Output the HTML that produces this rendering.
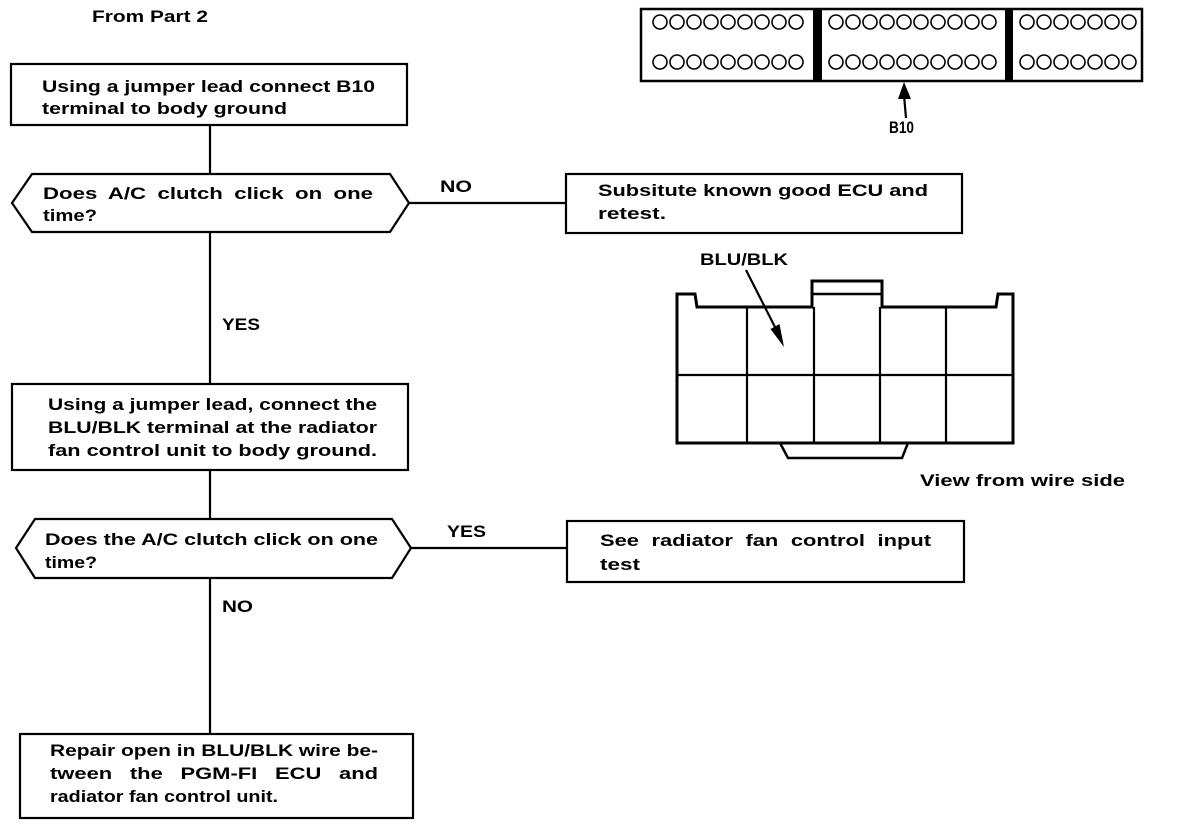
<!DOCTYPE html>
<html><head><meta charset="utf-8"><style>
html,body{margin:0;padding:0;background:#fff;}
svg{display:block;}
text{font-family:"Liberation Sans",Arial,sans-serif;font-weight:bold;font-size:17px;fill:#000;}
</style></head><body>
<svg width="1184" height="826" viewBox="0 0 1184 826" xmlns="http://www.w3.org/2000/svg">
<g fill="none" stroke="#000" stroke-width="2.2">
<line x1="210" y1="124" x2="210" y2="173"/>
<line x1="210" y1="231" x2="210" y2="384"/>
<line x1="210" y1="470" x2="210" y2="518"/>
<line x1="210" y1="578" x2="210" y2="733"/>
<line x1="409" y1="203" x2="566" y2="203"/>
<line x1="411" y1="548" x2="567" y2="548"/>
<rect x="11" y="64" width="396" height="61"/>
<polygon points="32,174 390,174 409,203 390,232 32,232 12,203"/>
<rect x="566" y="174" width="396" height="59"/>
<rect x="12" y="384" width="396" height="86"/>
<polygon points="35,519 392,519 411,548 392,578 35,578 16,548"/>
<rect x="567" y="521" width="397" height="61"/>
<rect x="20" y="734" width="393" height="84"/>
<path d="M677,443 L677,294 L695,294 L697,307 L812,307 L812,281 L882,281 L882,307 L996,307 L998,294 L1013,294 L1013,443 Z" stroke-width="3"/>
<line x1="812" y1="294" x2="882" y2="294" stroke-width="2.5"/>
<line x1="677" y1="375" x2="1013" y2="375"/>
<line x1="747" y1="307" x2="747" y2="443"/>
<line x1="814" y1="307" x2="814" y2="443"/>
<line x1="880" y1="307" x2="880" y2="443"/>
<line x1="946" y1="307" x2="946" y2="443"/>
<path d="M780,443 L788,458 L902,458 L908,443" stroke-width="2.5"/>
<line x1="746" y1="270" x2="778" y2="333"/>
<rect x="641" y="9" width="501" height="72" stroke-width="2.5"/>
<line x1="904" y1="95" x2="906" y2="118"/>
</g>
<polygon points="784,347 779.5,324 770.5,329" fill="#000"/>
<polygon points="904,82 898,99 911,99" fill="#000"/>
<rect x="813" y="9" width="9" height="72" fill="#000"/>
<rect x="1005" y="9" width="8" height="72" fill="#000"/>
<g fill="none" stroke="#000" stroke-width="1.6">
<g id="rl">
<circle cx="660" cy="22" r="7"/><circle cx="677" cy="22" r="7"/><circle cx="694" cy="22" r="7"/><circle cx="711" cy="22" r="7"/><circle cx="728" cy="22" r="7"/><circle cx="745" cy="22" r="7"/><circle cx="762" cy="22" r="7"/><circle cx="779" cy="22" r="7"/><circle cx="796" cy="22" r="7"/>
</g>
<use href="#rl" y="40"/>
<g id="rm">
<circle cx="836" cy="22" r="7"/><circle cx="853" cy="22" r="7"/><circle cx="870" cy="22" r="7"/><circle cx="887" cy="22" r="7"/><circle cx="904" cy="22" r="7"/><circle cx="921" cy="22" r="7"/><circle cx="938" cy="22" r="7"/><circle cx="955" cy="22" r="7"/><circle cx="972" cy="22" r="7"/><circle cx="989" cy="22" r="7"/>
</g>
<use href="#rm" y="40"/>
<g id="rr">
<circle cx="1027" cy="22" r="7"/><circle cx="1044" cy="22" r="7"/><circle cx="1061" cy="22" r="7"/><circle cx="1078" cy="22" r="7"/><circle cx="1095" cy="22" r="7"/><circle cx="1112" cy="22" r="7"/><circle cx="1129" cy="22" r="7"/>
</g>
<use href="#rr" y="40"/>
</g>
<text x="92" y="22" font-size="14" textLength="116" lengthAdjust="spacingAndGlyphs">From Part 2</text>
<text x="42" y="92" textLength="333" lengthAdjust="spacingAndGlyphs">Using a jumper lead connect B10</text>
<text x="42" y="114" textLength="245" lengthAdjust="spacingAndGlyphs">terminal to body ground</text>
<text x="43" y="199" textLength="330" lengthAdjust="spacingAndGlyphs" word-spacing="4">Does A/C clutch click on one</text>
<text x="43" y="221" textLength="54" lengthAdjust="spacingAndGlyphs">time?</text>
<text x="440" y="192" textLength="32" lengthAdjust="spacingAndGlyphs" font-weight="normal">NO</text>
<text x="598" y="196" textLength="330" lengthAdjust="spacingAndGlyphs">Subsitute known good ECU and</text>
<text x="598" y="219" textLength="68" lengthAdjust="spacingAndGlyphs">retest.</text>
<text x="222" y="330" textLength="38" lengthAdjust="spacingAndGlyphs" font-weight="normal">YES</text>
<text x="48" y="410" textLength="329" lengthAdjust="spacingAndGlyphs">Using a jumper lead, connect the</text>
<text x="48" y="433" textLength="329" lengthAdjust="spacingAndGlyphs">BLU/BLK terminal at the radiator</text>
<text x="48" y="456" textLength="329" lengthAdjust="spacingAndGlyphs">fan control unit to body ground.</text>
<text x="45" y="545" textLength="333" lengthAdjust="spacingAndGlyphs">Does the A/C clutch click on one</text>
<text x="45" y="568" textLength="52" lengthAdjust="spacingAndGlyphs">time?</text>
<text x="447" y="537" textLength="39" lengthAdjust="spacingAndGlyphs" font-weight="normal">YES</text>
<text x="600" y="546" textLength="331" lengthAdjust="spacingAndGlyphs" word-spacing="5">See radiator fan control input</text>
<text x="600" y="570" textLength="40" lengthAdjust="spacingAndGlyphs">test</text>
<text x="222" y="612" textLength="31" lengthAdjust="spacingAndGlyphs" font-weight="normal">NO</text>
<text x="50" y="756" textLength="328" lengthAdjust="spacingAndGlyphs">Repair open in BLU/BLK wire be-</text>
<text x="50" y="779" textLength="328" lengthAdjust="spacingAndGlyphs" word-spacing="9">tween the PGM-FI ECU and</text>
<text x="50" y="802" textLength="228" lengthAdjust="spacingAndGlyphs">radiator fan control unit.</text>
<text x="700" y="265" textLength="88" lengthAdjust="spacingAndGlyphs">BLU/BLK</text>
<text x="889" y="133" font-size="11" textLength="25" lengthAdjust="spacingAndGlyphs">B10</text>
<text x="920" y="486" font-weight="normal" textLength="205" lengthAdjust="spacingAndGlyphs">View from wire side</text>
</svg>
</body></html>
